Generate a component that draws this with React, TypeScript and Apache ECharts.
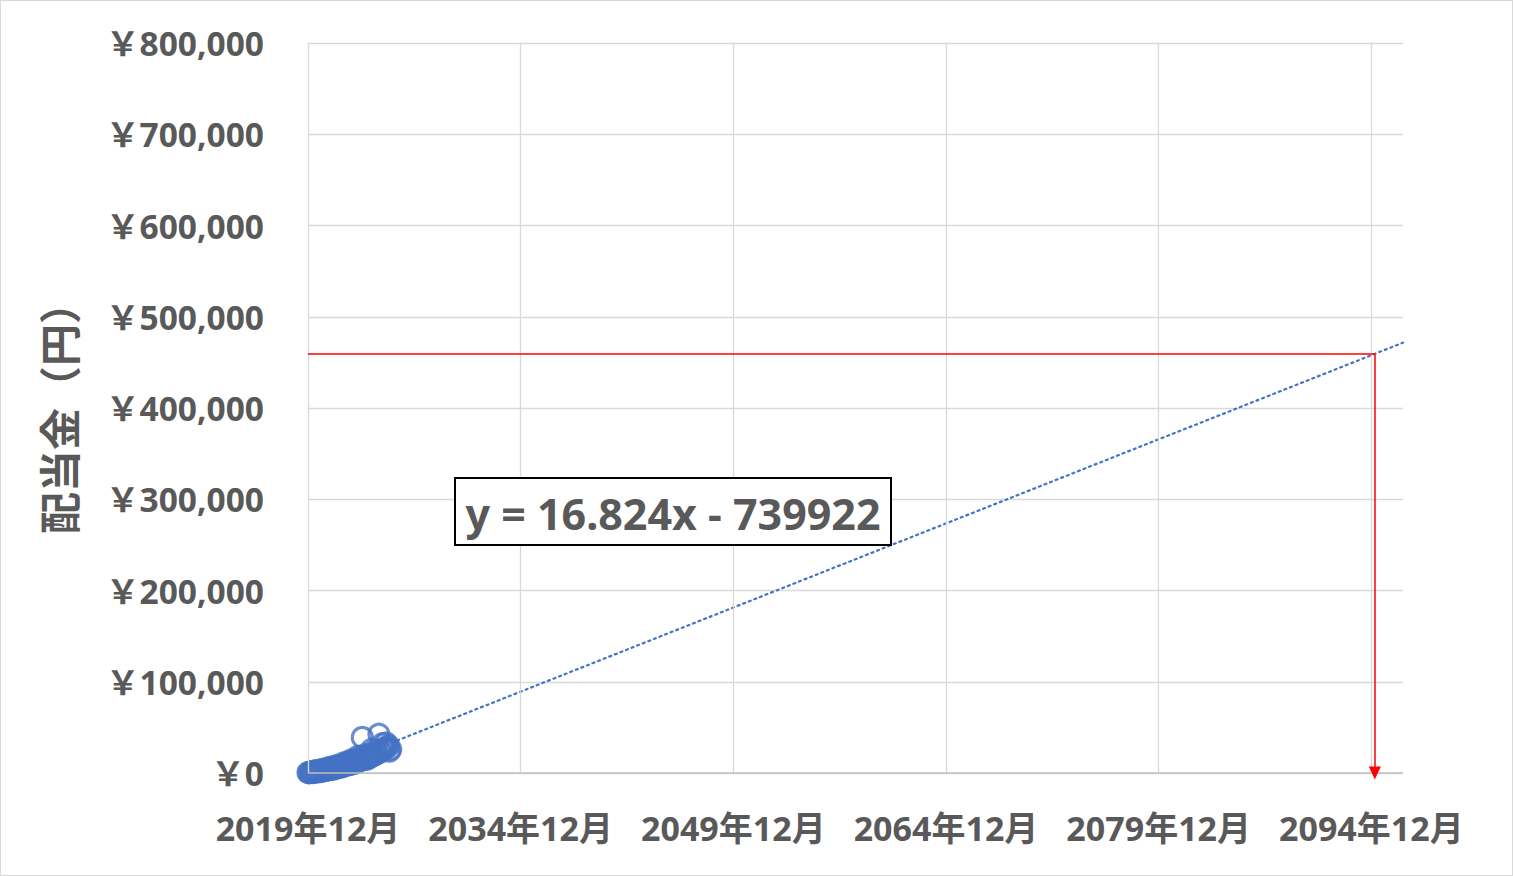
import React, { useEffect, useRef } from "react";
import * as echarts from "echarts";

// ---- data ----
const START_MONTH = "2019-12"; // first dividend month; points are consecutive months
const DIVIDENDS = [
  500,
  300, 800, 1500, 600, 900, 2500, 1200, 1500, 2800, 1500, 2000, 4000,
  2500, 3000, 4500, 3000, 3500, 6000, 4000, 4500, 6500, 4500, 5000, 8000,
  6000, 6500, 8500, 6500, 7000, 11000, 8000, 8500, 11500, 9000, 9500, 14000,
  10000, 10500, 14000, 11000, 12000, 18000, 13000, 13500, 17500, 39000, 15000, 20000,
  16000, 15000, 20000, 17000, 18000, 26000, 19000, 20000, 25000, 21000, 22000, 42500,
  23000, 24000, 32000, 26000, 27000, 33000, 28000, 30000, 24000, 26000,
];
const SLOPE = 16.824; // per Excel day serial
const INTERCEPT = -739922;
const TARGET_MONTH = "2095-03";
const TARGET_VALUE = 459000;
const Y_MIN = 0;
const Y_MAX = 800000;
const Y_STEP = 100000;
const X_STEP_DAYS = 5479; // 15 years
const X_MAX_DAYS = 28210;

// ---- helpers ----
const EXCEL_EPOCH = Date.UTC(1899, 11, 30);
const DAY = 86400000;
const parseMonth = (s: string) => {
  const [y, m] = s.split("-").map(Number);
  return { y, m };
};
const base = parseMonth(START_MONTH);
const BASE_MS = Date.UTC(base.y, base.m - 1, 1);
const BASE_SERIAL = (BASE_MS - EXCEL_EPOCH) / DAY;
const monthOffsetDays = (y: number, m: number) => (Date.UTC(y, m - 1, 1) - BASE_MS) / DAY;
const trendAt = (d: number) => SLOPE * (BASE_SERIAL + d) + INTERCEPT;

const scatterData = DIVIDENDS.map((v, i) => {
  const mm = base.m - 1 + i;
  const y = base.y + Math.floor(mm / 12);
  const m = (mm % 12) + 1;
  return [monthOffsetDays(y, m), v];
});
const tgt = parseMonth(TARGET_MONTH);
const TARGET_X = monthOffsetDays(tgt.y, tgt.m);

const xFormatter = (v: number) => {
  const d = new Date(BASE_MS + v * DAY);
  return `${d.getUTCFullYear()}年${d.getUTCMonth() + 1}月`;
};

const gridXs: number[] = [];
for (let d = 0; d <= X_MAX_DAYS; d += X_STEP_DAYS) gridXs.push(d);

const FONT = "'Noto Sans', 'Noto Sans CJK JP', sans-serif";
const TXT = "#595959";

export default function App() {
  const ref = useRef<HTMLDivElement>(null);
  useEffect(() => {
    document.body.style.margin = "0";
    const chart = echarts.init(ref.current!, undefined, { renderer: "svg" });
    const firstX = scatterData[0][0];
    const eqText = `y = ${SLOPE}x - ${Math.abs(INTERCEPT)}`;
    chart.setOption({
      animation: false,
      backgroundColor: "#fff",
      grid: { left: 307, top: 42, right: 109, bottom: 102, containLabel: false },
      xAxis: {
        type: "value",
        min: 0,
        max: X_MAX_DAYS,
        interval: X_STEP_DAYS,
        axisLine: { show: false },
        axisTick: { show: false },
        splitLine: { show: false },
        axisLabel: {
          formatter: xFormatter,
          showMaxLabel: false,
          color: TXT,
          fontFamily: FONT,
          fontWeight: "bold",
          fontSize: 34,
          margin: 38,
        },
      },
      yAxis: {
        type: "value",
        min: Y_MIN,
        max: Y_MAX,
        interval: Y_STEP,
        name: "配当金（円）",
        nameLocation: "middle",
        nameRotate: 90,
        nameGap: 228,
        nameTextStyle: { color: TXT, fontFamily: FONT, fontWeight: "bold", fontSize: 42 },
        axisLine: { show: false },
        axisTick: { show: false },
        splitLine: { lineStyle: { color: "#d9d9d9", width: 1.3 } },
        axisLabel: {
          formatter: (v: number) => "￥" + v.toLocaleString("en-US"),
          color: TXT,
          fontFamily: FONT,
          fontWeight: "bold",
          fontSize: 33.5,
          margin: 44,
        },
      },
      series: [
        {
          type: "line",
          silent: true,
          symbol: "none",
          data: [],
          markLine: {
            silent: true,
            symbol: "none",
            label: { show: false },
            lineStyle: { color: "#d9d9d9", width: 1.3, type: "solid" },
            data: gridXs.map((x) => ({ xAxis: x })),
          },
        },
        {
          type: "line",
          silent: true,
          symbol: "none",
          data: [],
          markLine: {
            silent: true,
            symbol: "none",
            label: { show: false },
            lineStyle: { color: "#bfbfbf", width: 1.5, type: "solid" },
            data: [[{ coord: [0, 0] }, { coord: [X_MAX_DAYS, 0] }]],
          },
        },
        {
          name: "trend",
          type: "line",
          silent: true,
          symbol: "none",
          lineStyle: { color: "#4472C4", width: 2.2, type: [2, 4], cap: "round" },
          data: [
            [firstX, trendAt(firstX)],
            [X_MAX_DAYS, trendAt(X_MAX_DAYS)],
          ],
        },
        {
          name: "target",
          type: "line",
          silent: true,
          symbol: "none",
          data: [],
          markLine: {
            silent: true,
            label: { show: false },
            lineStyle: { color: "#ff0000", width: 1.5, type: "solid" },
            data: [
              [
                { coord: [0, TARGET_VALUE], symbol: "none" },
                { coord: [TARGET_X, TARGET_VALUE], symbol: "none" },
              ],
              [
                { coord: [TARGET_X, TARGET_VALUE], symbol: "none" },
                { coord: [TARGET_X, 0], symbol: "triangle", symbolSize: [12, 13], symbolRotate: 180 },
              ],
            ],
          },
        },
        {
          name: "配当金",
          type: "scatter",
          symbol: "circle",
          symbolSize: 20,
          itemStyle: { color: "rgba(0,0,0,0)", borderColor: "#4472C4", borderWidth: 3.2 },
          data: scatterData,
        },
      ],
      graphic: [
        {
          type: "group",
          left: 453,
          top: 476,
          z: 100,
          children: [
            {
              type: "rect",
              z: 100,
              shape: { x: 0, y: 0, width: 436, height: 67 },
              style: { fill: "#fff", stroke: "#000", lineWidth: 2 },
            },
            {
              type: "text",
              z: 101,
              x: 218,
              y: 35,
              style: {
                text: eqText,
                fill: TXT,
                font: `bold 43px ${FONT}`,
                align: "center",
                verticalAlign: "middle",
              },
            },
          ],
        },
      ],
    });
    return () => chart.dispose();
  }, []);
  return (
    <div
      ref={ref}
      style={{ width: 1513, height: 876, border: "1px solid #d9d9d9", boxSizing: "border-box" }}
    />
  );
}
